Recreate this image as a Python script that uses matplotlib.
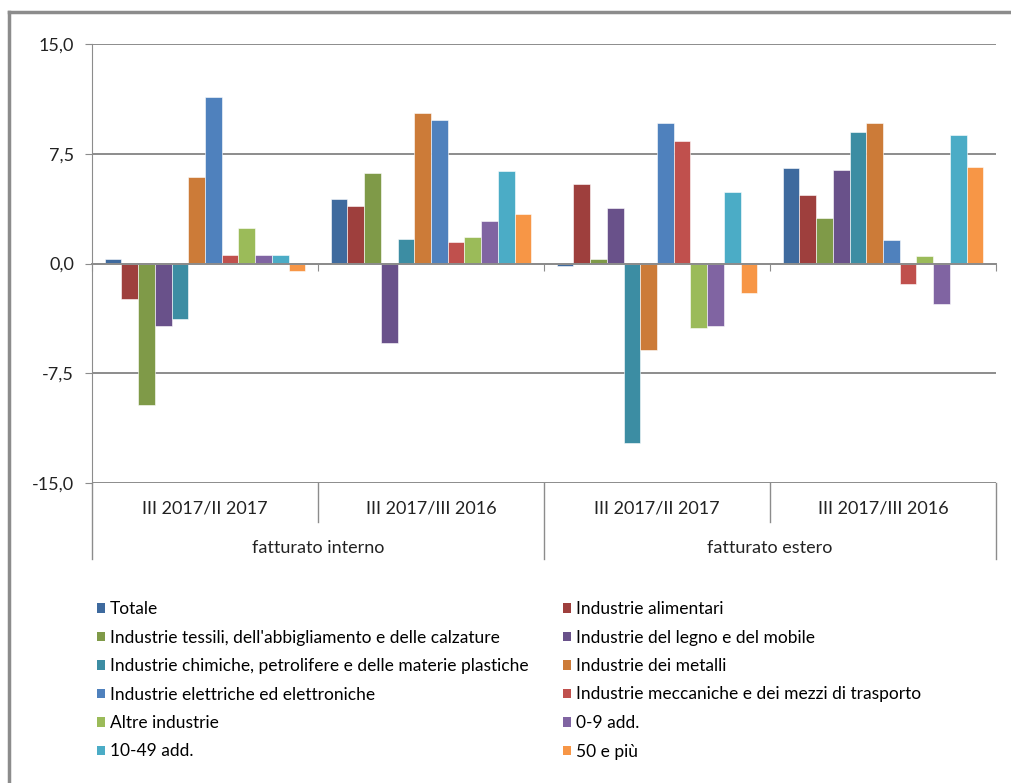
import numpy as np
import matplotlib
matplotlib.use('Agg')
import matplotlib.pyplot as plt
from matplotlib.lines import Line2D
from matplotlib.patches import Patch

plt.rcParams['font.family'] = ['Lato', 'DejaVu Sans']

# Dati
periodi = ['III 2017/II 2017', 'III 2017/III 2016', 'III 2017/II 2017', 'III 2017/III 2016']
fatturato = ['fatturato interno', 'fatturato estero']

serie = ['Totale', 'Industrie alimentari',
         "Industrie tessili, dell'abbigliamento e delle calzature",
         'Industrie del legno e del mobile',
         'Industrie chimiche, petrolifere e delle materie plastiche',
         'Industrie dei metalli',
         'Industrie elettriche ed elettroniche',
         'Industrie meccaniche e dei mezzi di trasporto',
         'Altre industrie', '0-9 add.', '10-49 add.', '50 e più']

colori = ['#3E6A9E', '#9E3F3D', '#7F9A48', '#69518A', '#3C8DA3', '#CC7B38',
          '#4F81BD', '#C0504D', '#9BBB59', '#8064A2', '#4BACC6', '#F79646']

# valori per serie: [interno III17/II17, interno III17/III16, estero III17/II17, estero III17/III16]
totale      = [0.3, 4.4, -0.2, 6.5]
alimentari  = [-2.4, 3.9, 5.4, 4.7]
tessili     = [-9.7, 6.2, 0.3, 3.1]
legno       = [-4.3, -5.4, 3.8, 6.4]
chimiche    = [-3.8, 1.7, -12.3, 9.0]
metalli     = [5.9, 10.3, -5.9, 9.6]
elettriche  = [11.4, 9.8, 9.6, 1.6]
meccaniche  = [0.6, 1.5, 8.4, -1.4]
altre       = [2.4, 1.8, -4.4, 0.5]
add_0_9     = [0.6, 2.9, -4.3, -2.8]
add_10_49   = [0.6, 6.3, 4.9, 8.8]
add_50      = [-0.5, 3.4, -2.0, 6.6]

valori = [totale, alimentari, tessili, legno, chimiche, metalli,
          elettriche, meccaniche, altre, add_0_9, add_10_49, add_50]

W, H = 1011, 783
fig = plt.figure(figsize=(W / 100, H / 100), dpi=100)
ax = fig.add_axes([92 / W, 1 - 483 / H, 904 / W, 439 / H])

n = len(serie)
larg = 1 / (n + 1.5)
x = np.arange(len(periodi))
for i in range(n):
    ax.bar(x + (i - (n - 1) / 2) * larg, valori[i], width=larg, color=colori[i],
           edgecolor='white', linewidth=0.4, zorder=3, label=serie[i])

ax.set_xlim(-0.5, 3.5)
ax.set_ylim(-15, 15)
ax.set_yticks([-15, -7.5, 0, 7.5, 15])
ax.set_yticklabels(['-15,0', '-7,5', '0,0', '7,5', '15,0'], fontsize=13, color='#222222')
ax.yaxis.grid(True, color='#8C8C8C', linewidth=1.4, zorder=0)
ax.tick_params(axis='y', length=5, color='#8C8C8C', pad=8)

ax.spines['top'].set_visible(False)
ax.spines['right'].set_visible(False)
ax.spines['left'].set_color('#8C8C8C')
ax.spines['bottom'].set_position(('data', 0))
ax.spines['bottom'].set_color('#8C8C8C')
ax.spines['bottom'].set_linewidth(1.4)
ax.spines['bottom'].set_zorder(4)
ax.set_xticks([-0.5, 0.5, 1.5, 2.5, 3.5])
ax.set_xticklabels([])
ax.tick_params(axis='x', length=5, color='#8C8C8C')

# asse categorie a due livelli
trans = ax.get_xaxis_transform()
y_in = -25 / 439
y_in_fine = -39 / 439
y_out = -65 / 439
y_out_fine = -76 / 439
for i, p in enumerate(periodi):
    ax.text(i, y_in, p, transform=trans, ha='center', va='center', fontsize=13, color='#222222')
for b in [0.5, 2.5]:
    ax.plot([b, b], [0, y_in_fine], transform=trans, color='#8C8C8C', lw=1, clip_on=False)
for j, f in enumerate(fatturato):
    ax.text(2 * j + 0.5, y_out, f, transform=trans, ha='center', va='center', fontsize=13, color='#222222')
for b in [-0.5, 1.5, 3.5]:
    ax.plot([b, b], [0, y_out_fine], transform=trans, color='#8C8C8C', lw=1, clip_on=False)

# legenda in due colonne
handles = [Patch(facecolor=c) for c in colori]
for col, x0 in [(0, 97), (1, 563)]:
    idx = list(range(col, n, 2))
    fig.legend([handles[k] for k in idx], [serie[k] for k in idx],
               loc='upper left', bbox_to_anchor=(x0 / W, 1 - 601 / H),
               frameon=False, fontsize=12.5, handlelength=0.47, handleheight=0.47,
               handletextpad=0.25, labelspacing=0.72, borderaxespad=0, borderpad=0)

# bordo dell'area del grafico
fig.add_artist(Line2D([9 / W, 9 / W], [0, 1 - 12 / H], color='#8C8C8C', lw=2.5))
fig.add_artist(Line2D([9 / W, 1], [1 - 12 / H, 1 - 12 / H], color='#8C8C8C', lw=2.5))

fig.savefig('out.png', dpi=100)
